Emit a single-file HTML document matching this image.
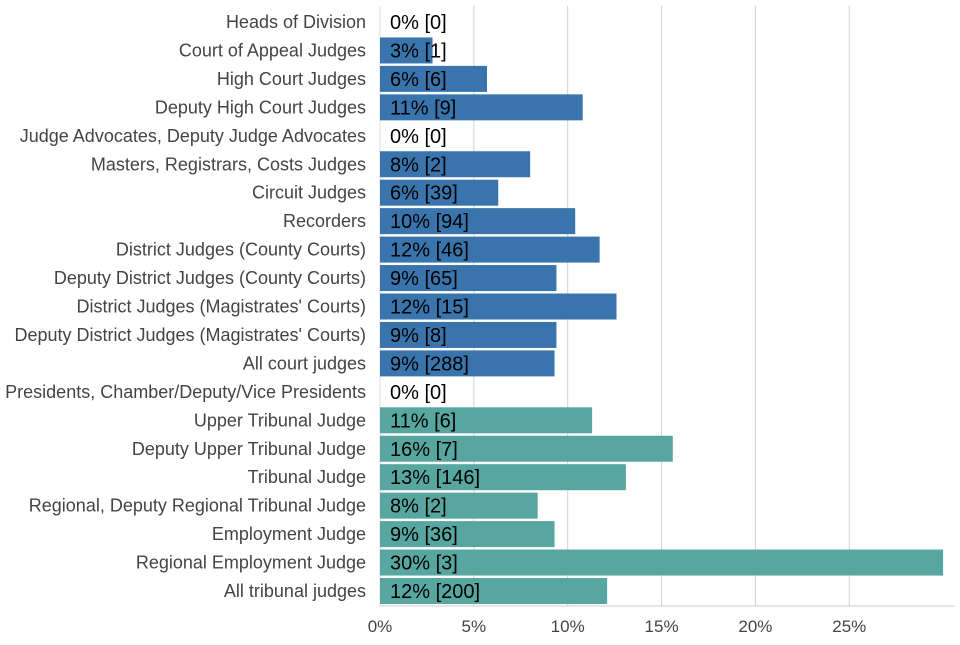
<!DOCTYPE html>
<html><head><meta charset="utf-8"><style>
body{margin:0;background:#fff;font-family:"Liberation Sans",sans-serif}
svg text{font-family:"Liberation Sans",sans-serif}
</style></head><body>
<svg id="chart" width="960" height="640" xmlns="http://www.w3.org/2000/svg"></svg>
<script>
const categories=["Heads of Division","Court of Appeal Judges","High Court Judges","Deputy High Court Judges","Judge Advocates, Deputy Judge Advocates","Masters, Registrars, Costs Judges","Circuit Judges","Recorders","District Judges (County Courts)","Deputy District Judges (County Courts)","District Judges (Magistrates' Courts)","Deputy District Judges (Magistrates' Courts)","All court judges","Presidents, Chamber/Deputy/Vice Presidents","Upper Tribunal Judge","Deputy Upper Tribunal Judge","Tribunal Judge","Regional, Deputy Regional Tribunal Judge","Employment Judge","Regional Employment Judge","All tribunal judges"];
const values=[0,2.8,5.7,10.8,0,8.0,6.3,10.4,11.7,9.4,12.6,9.4,9.3,0,11.3,15.6,13.1,8.4,9.3,30,12.1];
const labels=["0% [0]","3% [1]","6% [6]","11% [9]","0% [0]","8% [2]","6% [39]","10% [94]","12% [46]","9% [65]","12% [15]","9% [8]","9% [288]","0% [0]","11% [6]","16% [7]","13% [146]","8% [2]","9% [36]","30% [3]","12% [200]"];
const groups=["court","court","court","court","court","court","court","court","court","court","court","court","court","tribunal","tribunal","tribunal","tribunal","tribunal","tribunal","tribunal","tribunal"];
const ticks=[0,5,10,15,20,25];
const tickLabels=["0%","5%","10%","15%","20%","25%"];

const svg=document.getElementById('chart');
const NS='http://www.w3.org/2000/svg';
const x0=380,pxPer=18.77,yTop=22,step=28.45,bh=26;
const X=v=>x0+v*pxPer;
const Y=i=>yTop+i*step;
function mk(t,a){const e=document.createElementNS(NS,t);for(const k in a)e.setAttribute(k,a[k]);svg.appendChild(e);return e;}
ticks.forEach((t,i)=>{
  if(t>0){const g=mk('line',{x1:X(t),x2:X(t),y1:6,y2:606,stroke:'#d0d0d0','stroke-width':1});
  
  }
  const tl=mk('text',{x:X(t),y:632,'text-anchor':'middle','font-size':17,fill:'#444'});
  tl.textContent=tickLabels[i];
  
  
});
const ax=mk('line',{x1:x0,x2:955,y1:606,y2:606,stroke:'#ccc','stroke-width':1});


const ay=mk('line',{x1:x0,x2:x0,y1:6,y2:606,stroke:'#ddd','stroke-width':1});


categories.forEach((c,i)=>{
  const cy=Y(i);
  const cl=mk('text',{x:366,y:cy+6,'text-anchor':'end','font-size':18,fill:'#444'});
  cl.textContent=c;
  
  
  if(values[i]>0){
    const r=mk('rect',{x:X(0),y:cy-bh/2,width:X(values[i])-X(0),height:bh,fill:groups[i]==='court'?'#3a74ad':'#58a6a0'});
    
    
  }
  const vl=mk('text',{x:390,y:cy+7,'font-size':20,fill:'#000'});
  vl.textContent=labels[i];
  
  
});
</script>
</body></html>
